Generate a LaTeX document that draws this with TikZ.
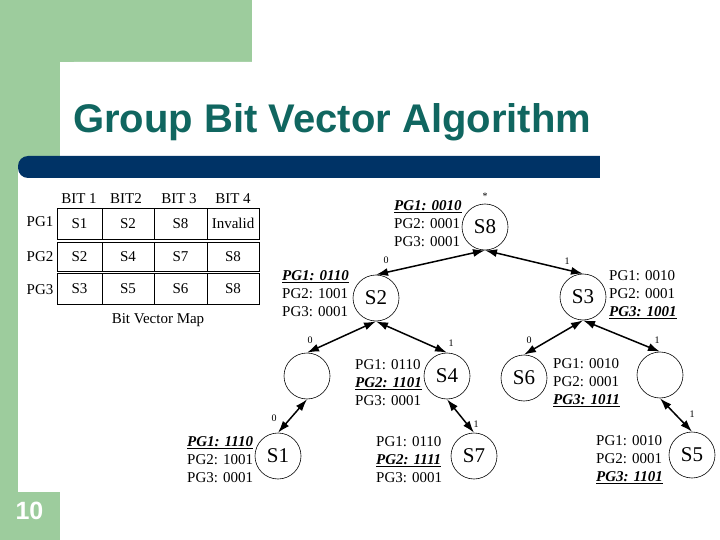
\documentclass[tikz,border=0pt]{standalone}
\usepackage{fontspec}
\setmainfont{Liberation Serif}
\newfontfamily\titlefont{Liberation Sans}
\usetikzlibrary{arrows.meta}
\definecolor{slidegreen}{RGB}{157,204,157}
\definecolor{slideblue}{RGB}{0,51,102}
\definecolor{titleteal}{RGB}{16,102,96}
\newcommand\bitul[1]{\underline{\textbf{\textit{#1}}}}
\begin{document}
\begin{tikzpicture}[x=1pt,y=-1pt,
  cell/.style={draw, line width=0.9pt, inner sep=0, minimum height=#1, font=\fontsize{15}{17}\selectfont},
  hdr/.style={inner sep=0, font=\fontsize{15}{17}\selectfont},
  snode/.style={circle, draw, line width=0.6pt, minimum size=46pt, inner sep=0, font=\fontsize{21}{24}\selectfont},
  info/.style={anchor=west, align=left, inner sep=0, font=\fontsize{15}{18}\selectfont},
  lbl/.style={inner sep=0, font=\fontsize{10}{11}\selectfont},
  edge/.style={line width=1.5pt, {Latex[length=12pt,width=8pt]}-{Latex[length=12pt,width=8pt]}}]
\useasboundingbox (0,0) rectangle (720,540);
% slide background
\fill[white] (0,0) rectangle (720,540);
\fill[slidegreen] (0,0) rectangle (252,62);
\fill[slidegreen] (0,0) rectangle (60,540);
\fill[white, rounded corners=14pt] (60,62) rectangle (760,580);
\fill[white] (18,167) rectangle (61,492);
\fill[slideblue, rounded corners=10pt] (18,156) rectangle (630,178);
\fill[white] (600,150) rectangle (640,185);
\node[anchor=base west, inner sep=0, text=titleteal, font=\titlefont\bfseries\fontsize{40}{44}\selectfont] (title) at (73,133) {Group Bit Vector Algorithm};
\node[inner sep=0, text=white, font=\titlefont\bfseries\fontsize{25}{28}\selectfont] (pagenum) at (29.5,511) {10};
% bit vector map
\node[hdr] (h1) at (79,199) {BIT 1};
\node[hdr] (h2) at (126,199) {BIT2};
\node[hdr] (h3) at (179,199) {BIT 3};
\node[hdr] (h4) at (233,199) {BIT 4};
\node[hdr] (r1) at (40,222) {PG1};
\node[hdr] (r2) at (40,257) {PG2};
\node[hdr] (r3) at (40,290) {PG3};
\node[cell=31pt, minimum width=45pt] (c11) at (79.5,223.5) {S1};
\node[cell=31pt, minimum width=52pt] (c12) at (128,223.5) {S2};
\node[cell=31pt, minimum width=53pt] (c13) at (180.5,223.5) {S8};
\node[cell=31pt, minimum width=52pt] (c14) at (233,223.5) {Invalid};
\node[cell=29pt, minimum width=45pt] (c21) at (79.5,256.5) {S2};
\node[cell=29pt, minimum width=52pt] (c22) at (128,256.5) {S4};
\node[cell=29pt, minimum width=53pt] (c23) at (180.5,256.5) {S7};
\node[cell=29pt, minimum width=52pt] (c24) at (233,256.5) {S8};
\node[cell=31pt, minimum width=45pt] (c31) at (79.5,288.5) {S3};
\node[cell=31pt, minimum width=52pt] (c32) at (128,288.5) {S5};
\node[cell=31pt, minimum width=53pt] (c33) at (180.5,288.5) {S6};
\node[cell=31pt, minimum width=52pt] (c34) at (233,288.5) {S8};
\node[hdr] (cap) at (158,320) {Bit Vector Map};
% tree
\node[snode] (S8) at (485,227) {S8};
\node[snode] (S2) at (376,298) {S2};
\node[snode] (S3) at (583,297) {S3};
\node[snode] (E1) at (307,376) {};
\node[snode] (S4) at (447,376) {S4};
\node[snode] (S6) at (524,378) {S6};
\node[snode] (E2) at (660,375) {};
\node[snode] (S1) at (278,456) {S1};
\node[snode] (S7) at (474,456) {S7};
\node[snode] (S5) at (692,455) {S5};
\draw[edge] (S8.south) -- (S2.north);
\draw[edge] (S8.south) -- (S3.north);
\draw[edge] (S2.south) -- (E1.north);
\draw[edge] (S2.south) -- (S4.north);
\draw[edge] (S3.south) -- (S6.north);
\draw[edge] (S3.south) -- (E2.north);
\draw[edge] (E1.south) -- (S1.north);
\draw[edge] (S4.south) -- (S7.north);
\draw[edge] (E2.south) -- (S5.north);
\node[lbl] (star) at (485,196) {*};
\node[lbl] (l82) at (386,260) {0};
\node[lbl] (l83) at (567,261) {1};
\node[lbl] (l2e) at (310,340) {0};
\node[lbl] (l24) at (451,343) {1};
\node[lbl] (l36) at (529,340) {0};
\node[lbl] (l3e) at (657,340) {1};
\node[lbl] (le1) at (274,418) {0};
\node[lbl] (l47) at (476,424) {1};
\node[lbl] (le5) at (692,414) {1};
% info blocks
\node[info] (i8) at (394,224) {\bitul{PG1: 0010}\\PG2: 0001\\PG3: 0001};
\node[info] (i2) at (282,294) {\bitul{PG1: 0110}\\PG2: 1001\\PG3: 0001};
\node[info] (i3) at (609,295) {PG1: 0010\\PG2: 0001\\\bitul{PG3: 1001}};
\node[info] (i4) at (355,383) {PG1: 0110\\\bitul{PG2: 1101}\\PG3: 0001};
\node[info] (i6) at (553,383) {PG1: 0010\\PG2: 0001\\\bitul{PG3: 1011}};
\node[info] (i1) at (187,460) {\bitul{PG1: 1110}\\PG2: 1001\\PG3: 0001};
\node[info] (i7) at (376,460) {PG1: 0110\\\bitul{PG2: 1111}\\PG3: 0001};
\node[info] (i5) at (596,460) {PG1: 0010\\PG2: 0001\\\bitul{PG3: 1101}};
\end{tikzpicture}
\end{document}
